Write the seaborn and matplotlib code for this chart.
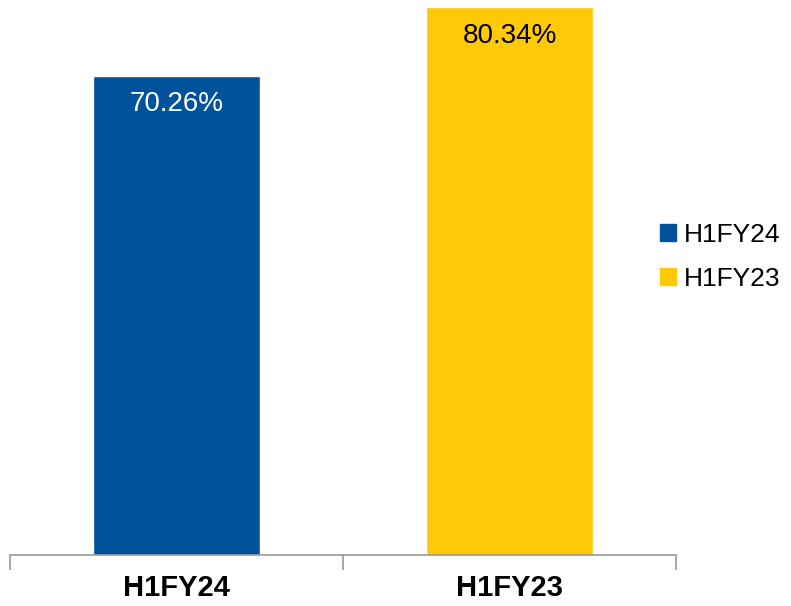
import pandas as pd
import matplotlib
matplotlib.use("Agg")
import matplotlib.pyplot as plt
import seaborn as sns

# chart values
periods = ["H1FY24", "H1FY23"]
ratios = [70.26, 80.34]
bar_colors = ["#00529B", "#FFC907"]
label_colors = ["white", "black"]

df = pd.DataFrame({"period": periods, "ratio": ratios})

sns.set_style("white")
plt.rcParams["font.family"] = ["Liberation Sans", "DejaVu Sans"]
plt.rcParams["text.color"] = "black"
plt.rcParams["xtick.color"] = "black"

fig = plt.figure(figsize=(7.91, 6.06), dpi=100)
ax = fig.add_axes([10 / 791, 51 / 606, 666 / 791, 555 / 606])

sns.barplot(data=df, x="period", y="ratio", hue="period", palette=bar_colors,
            width=0.5, dodge=False, legend=False, saturation=1, ax=ax)

ax.set_xlim(-0.5, 1.5)
ax.set_ylim(0, 80.34 * 555 / 548)

# value labels inside the bars
for i, (v, c) in enumerate(zip(ratios, label_colors)):
    ax.text(i, v - 2.3, f"{v:.2f}%", ha="center", va="top", fontsize=20, color=c)

# axis styling
for s in ["top", "right", "left"]:
    ax.spines[s].set_visible(False)
ax.spines["bottom"].set_color("#999999")
ax.spines["bottom"].set_linewidth(1.2)
ax.set_yticks([])
ax.set_xticks([-0.5, 0.5, 1.5])
ax.set_xticklabels([])
ax.tick_params(axis="x", which="major", bottom=True, length=11, color="#999999",
               width=1.2, direction="out")
ax.set_xticks([0, 1], minor=True)
ax.set_xticklabels(periods, minor=True, fontsize=21, fontweight="bold", color="black")
ax.tick_params(axis="x", which="minor", bottom=True, length=0, pad=14)
ax.set_xlabel("")
ax.set_ylabel("")

handles = [plt.Rectangle((0, 0), 1, 1, color=c) for c in bar_colors]
ax.legend(handles, periods, loc="center left", bbox_to_anchor=(660 / 791, 1 - 257 / 606),
          bbox_transform=fig.transFigure, frameon=False, fontsize=19, labelcolor="black",
          handlelength=0.6, handleheight=0.6, handletextpad=0.3, labelspacing=0.75,
          borderaxespad=0, borderpad=0)

fig.savefig("out.png", dpi=100)
